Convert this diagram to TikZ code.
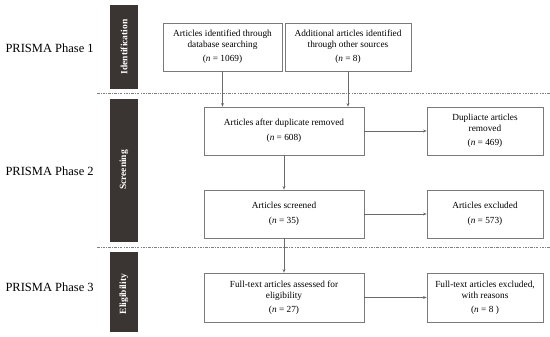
\documentclass[tikz,border=0pt]{standalone}
\usepackage{fontspec}
\setmainfont{Liberation Serif}
\usetikzlibrary{arrows.meta}
\definecolor{bardark}{HTML}{3A3432}
\definecolor{boxline}{HTML}{7A7A7A}
\definecolor{arrline}{HTML}{6A6A6A}
\tikzset{
  boxn/.style={draw=boxline, line width=0.7pt, align=center, font=\fontsize{9.3}{11}\selectfont, inner sep=0pt},
  bar/.style={fill=bardark, draw=none},
  bartext/.style={text=white, rotate=90, font=\fontsize{9.5}{11}\selectfont\bfseries},
  phase/.style={font=\fontsize{12.5}{14}\selectfont, anchor=west},
  arr/.style={draw=arrline, line width=0.6pt, -{Stealth[length=3.5pt,width=2.8pt]}},
  sep/.style={draw=gray, line width=0.6pt, dash pattern=on 2.5pt off 1.2pt on 0.8pt off 1.2pt}
}
\newcommand{\nn}{\textit{n}}
\begin{document}
\begin{tikzpicture}[x=1pt,y=-1pt]
\useasboundingbox (0,0) rectangle (550,337);
% phase labels
\node[phase] (p1) at (2,48) {PRISMA Phase 1};
\node[phase] (p2) at (2,171) {PRISMA Phase 2};
\node[phase] (p3) at (2,287) {PRISMA Phase 3};
% bars
\fill[bar] (110,5) rectangle (138,89);
\fill[bar] (110,99) rectangle (138,242);
\fill[bar] (110,252) rectangle (138,332);
\node[bartext] (b1) at (124,47) {Identification};
\node[bartext] (b2) at (124,170) {Screening};
\node[bartext] (b3) at (124,294) {Eligibility};
% separators
\draw[sep] (97,93) -- (550,93);
\draw[sep] (97,247) -- (550,247);
% boxes
\node[boxn, minimum width=119pt, minimum height=48pt] (A) at (222.5,47) {Articles identified through\\database searching\\[3pt](\nn{} = 1069)};
\node[boxn, minimum width=126pt, minimum height=48pt] (B) at (348,47) {Additional articles identified\\through other sources\\[3pt](\nn{} = 8)};
\node[boxn, minimum width=160pt, minimum height=48pt] (C) at (284,131) {Articles after duplicate removed\\[4pt](\nn{} = 608)};
\node[boxn, minimum width=116pt, minimum height=48pt] (D) at (485,131) {Dupliacte articles\\removed\\[3pt](\nn{} = 469)};
\node[boxn, minimum width=160pt, minimum height=48pt] (E) at (284,214) {Articles screened\\[4pt](\nn{} = 35)};
\node[boxn, minimum width=116pt, minimum height=48pt] (F) at (485,214) {Articles excluded\\[4pt](\nn{} = 573)};
\node[boxn, minimum width=160pt, minimum height=49pt] (G) at (284,297.5) {Full-text articles assessed for\\eligibility\\[3pt](\nn{} = 27)};
\node[boxn, minimum width=116pt, minimum height=49pt] (H) at (485,297.5) {Full-text articles excluded,\\with reasons\\[3pt](\nn{} = 8 )};
% arrows
\draw[arr] (A.south) -- (A.south |- C.north);
\draw[arr] (B.south) -- (B.south |- C.north);
\draw[arr] (C.east) -- (D.west);
\draw[arr] (C.south) -- (E.north);
\draw[arr] (E.east) -- (F.west);
\draw[arr] (E.south) -- (G.north);
\draw[arr] (G.east) -- (H.west);
\end{tikzpicture}
\end{document}
